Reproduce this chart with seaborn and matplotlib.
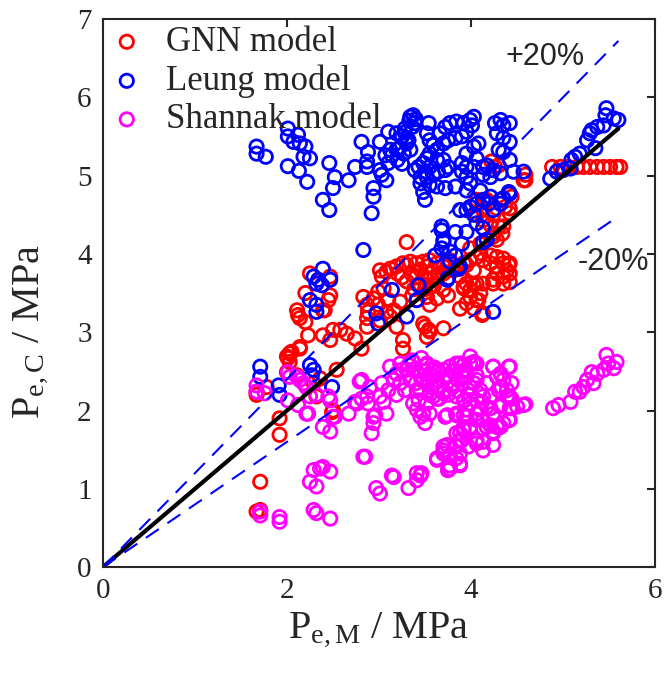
import pandas as pd
import seaborn as sns
import matplotlib.pyplot as plt
import numpy as np

gnn_pts = [
    (1.67, 2.24), (1.67, 2.20), (1.78, 2.30), (1.92, 1.90), (1.92, 1.69), (1.71, 1.09),
    (1.71, 0.73), (1.67, 0.71), (2.11, 3.28), (2.12, 3.22), (2.14, 3.18), (2.20, 3.13),
    (2.23, 2.96), (2.14, 2.79), (2.03, 2.73), (2.01, 2.67), (2.03, 2.62), (2.39, 3.28),
    (2.45, 3.41), (2.39, 2.96), (2.47, 2.90), (2.50, 3.03), (2.54, 2.52), (2.36, 2.41),
    (2.32, 2.18), (2.50, 2.00), (2.29, 2.35), (2.11, 2.45), (2.00, 2.49), (2.25, 3.75),
    (2.47, 3.71), (2.20, 3.50), (2.47, 3.47), (2.41, 3.28), (3.30, 4.15), (2.05, 2.75),
    (2.14, 2.81), (2.00, 2.69), (2.65, 2.98), (2.74, 2.92), (2.81, 2.79), (2.58, 3.03),
    (2.83, 3.45), (2.87, 3.35), (2.88, 3.26), (2.87, 3.18), (2.87, 3.07), (2.94, 3.43),
    (2.99, 3.52), (3.05, 3.56), (3.03, 3.71), (3.08, 3.77), (3.12, 3.81), (3.19, 3.84),
    (3.26, 3.88), (3.34, 3.90), (3.41, 3.88), (3.48, 3.90), (3.55, 3.92), (3.63, 3.88),
    (3.70, 3.84), (2.99, 3.35), (3.10, 3.41), (3.08, 3.26), (3.01, 3.15), (3.12, 3.20),
    (3.16, 3.28), (3.23, 3.39), (3.36, 3.47), (3.41, 3.41), (3.52, 3.45), (3.55, 3.35),
    (3.63, 3.43), (3.70, 3.54), (3.55, 3.58), (3.63, 3.67), (3.19, 3.07), (3.26, 2.90),
    (3.26, 2.79), (3.48, 3.11), (3.54, 3.03), (3.52, 2.94), (3.55, 3.01), (3.70, 3.05),
    (3.92, 3.56), (3.99, 3.45), (4.06, 3.62), (3.88, 3.30), (4.03, 3.30), (3.77, 3.92),
    (3.84, 3.84), (3.92, 3.88), (3.99, 3.92), (4.06, 3.96), (4.03, 3.79), (3.88, 3.71),
    (3.95, 3.62), (3.50, 3.07), (3.95, 3.37), (4.06, 3.41), (4.13, 3.24), (4.10, 3.50),
    (3.99, 3.54), (3.92, 3.58), (4.13, 3.62), (4.24, 3.62), (4.35, 3.62), (4.42, 3.64),
    (4.10, 4.01), (4.13, 3.92), (4.21, 3.88), (4.28, 3.84), (4.35, 3.88), (4.41, 3.86),
    (4.42, 3.75), (4.35, 3.71), (4.28, 3.75), (4.24, 3.67), (4.03, 3.60), (4.08, 3.41),
    (4.12, 3.22), (3.75, 3.47), (3.70, 3.75), (3.81, 3.79), (3.88, 3.81),
    (4.88, 5.11), (4.97, 5.11), (5.06, 5.11), (5.15, 5.11), (5.22, 5.11), (5.29, 5.11),
    (5.37, 5.11), (5.44, 5.11), (5.51, 5.11), (5.58, 5.11), (5.62, 5.11),
    (4.22, 5.18), (4.26, 5.11), (4.59, 5.01), (4.59, 4.94), (4.41, 4.77), (4.44, 4.73),
    (4.37, 4.60), (4.42, 4.58), (4.15, 4.67), (4.06, 4.69), (4.13, 4.56), (4.24, 4.50),
    (4.21, 4.37), (4.30, 4.35), (4.34, 4.26), (4.24, 4.22), (4.17, 4.18), (3.01, 3.79),
    (3.30, 3.86), (3.52, 3.84), (3.74, 3.84), (3.95, 3.86), (4.21, 3.98), (4.28, 3.96),
    (4.35, 3.94), (4.42, 3.88), (4.39, 3.79), (3.99, 4.07), (4.10, 4.13), (4.24, 4.26),
    (4.28, 4.18), (4.35, 4.35), (4.42, 4.52), (4.13, 4.43), (4.06, 4.50), (4.17, 4.69),
    (4.28, 4.58), (4.57, 4.94), (4.30, 5.13), (2.49, 1.98),
    (3.35, 3.75), (3.40, 3.70), (3.45, 3.80), (3.50, 3.70), (3.55, 3.75), (3.60, 3.70),
    (3.65, 3.75), (3.45, 3.60), (3.50, 3.55), (3.30, 3.65), (3.25, 3.70), (3.20, 3.75),
    (3.38, 3.55), (3.60, 3.60),
]

leung_pts = [
    (1.67, 5.37), (1.67, 5.28), (1.77, 5.24), (2.01, 5.60), (2.01, 5.50), (2.12, 5.52),
    (2.07, 5.43), (2.14, 5.41), (2.20, 5.37), (2.18, 5.24), (2.25, 5.22), (2.01, 5.12),
    (2.13, 5.06), (2.22, 4.92), (2.46, 5.16), (2.52, 4.98), (2.50, 4.84), (2.39, 4.69),
    (2.46, 4.56), (2.39, 3.81), (2.29, 3.71), (2.34, 3.67), (2.47, 3.67), (2.32, 3.62),
    (2.38, 3.60), (2.25, 3.41), (2.32, 3.35), (2.32, 3.26), (2.67, 4.94), (2.74, 5.11),
    (2.81, 5.43), (2.88, 5.30), (2.87, 5.18), (2.87, 5.11), (3.01, 5.43), (3.10, 5.56),
    (3.12, 5.33), (3.07, 5.26), (3.01, 5.07), (3.08, 4.94), (2.94, 4.84), (2.94, 4.73),
    (2.92, 4.52), (3.19, 5.54), (3.28, 5.60), (3.34, 5.75), (3.37, 5.77), (3.39, 5.67),
    (3.25, 5.50), (3.30, 5.41), (3.34, 5.33), (3.19, 5.33), (3.14, 5.26), (3.10, 5.16),
    (3.03, 5.01), (3.20, 5.20), (3.22, 5.35), (3.28, 5.55), (3.33, 5.70), (3.36, 5.62),
    (3.30, 5.48), (3.27, 5.28), (3.32, 5.45), (3.40, 5.72), (3.25, 5.15), (2.83, 4.05),
    (3.54, 5.67), (3.52, 5.54), (3.55, 5.45), (3.59, 5.39), (3.66, 5.54), (3.72, 5.62),
    (3.77, 5.67), (3.84, 5.69), (3.92, 5.67), (3.99, 5.71), (4.03, 5.75), (4.01, 5.64),
    (3.95, 5.56), (3.90, 5.50), (3.83, 5.48), (3.75, 5.45), (3.70, 5.41), (3.63, 5.33),
    (3.55, 5.28), (3.52, 5.22), (3.48, 5.16), (3.43, 5.11), (3.39, 5.07), (3.45, 4.98),
    (3.52, 4.98), (3.59, 5.01), (3.64, 5.05), (3.72, 5.07), (3.75, 5.11), (3.70, 5.20),
    (3.63, 5.20), (3.55, 5.11), (3.50, 5.05), (3.45, 4.90), (3.48, 4.79), (3.50, 4.69),
    (3.55, 4.88), (3.63, 4.86), (3.72, 4.84), (3.83, 4.86), (3.95, 4.81), (3.99, 4.90),
    (3.95, 4.98), (3.90, 5.05), (3.90, 5.16), (3.95, 5.11), (4.03, 5.11), (4.06, 5.22),
    (3.95, 5.28), (4.03, 5.37), (4.08, 5.41), (4.13, 5.11), (4.13, 5.01), (4.21, 4.98),
    (4.24, 5.07), (4.17, 5.13), (4.10, 4.81),
    (4.26, 5.67), (4.32, 5.71), (4.35, 5.64), (4.42, 5.67), (4.28, 5.54), (4.35, 5.48),
    (4.42, 5.43), (4.30, 5.33), (4.35, 5.30), (4.42, 5.20), (4.32, 5.03), (4.46, 5.05),
    (4.57, 5.05),
    (3.95, 4.56), (3.99, 4.60), (4.06, 4.64), (4.13, 4.69), (4.19, 4.64), (4.24, 4.56),
    (4.32, 4.64), (4.35, 4.71), (4.42, 4.77), (4.03, 4.50), (4.06, 4.39), (4.13, 4.33),
    (3.68, 4.30), (3.70, 4.18), (3.83, 4.28), (3.95, 4.28), (3.90, 4.13), (3.83, 3.98),
    (3.68, 4.07), (3.61, 3.98),
    (3.14, 3.54), (3.43, 3.60), (3.41, 3.41), (3.30, 3.20), (2.97, 3.24), (2.99, 3.11),
    (4.24, 3.26), (2.49, 2.30), (3.74, 3.67), (3.77, 4.03), (3.70, 4.15), (3.75, 3.69),
    (3.88, 3.84), (1.71, 2.56), (1.71, 2.43), (1.91, 2.32), (1.92, 2.20), (2.25, 2.58),
    (2.29, 2.52), (2.27, 2.45),
    (5.47, 5.86), (5.46, 5.77), (5.55, 5.73), (5.60, 5.71), (5.44, 5.64), (5.37, 5.62),
    (5.31, 5.58), (5.29, 5.54), (5.26, 5.45), (5.35, 5.35), (5.18, 5.28), (5.13, 5.24),
    (5.09, 5.20), (5.08, 5.09), (5.00, 5.07), (4.93, 5.05), (4.86, 4.96),
    (3.68, 4.35), (3.88, 4.56), (4.21, 4.73), (4.13, 4.15), (3.77, 3.90), (3.86, 3.81),
    (4.17, 4.18), (4.41, 4.79), (4.32, 4.69),
]

shannak_pts = [
    (1.67, 2.32), (1.67, 2.24), (1.76, 2.22), (2.01, 2.49), (2.03, 2.43), (2.11, 2.43),
    (2.14, 2.39), (2.18, 2.35), (2.21, 2.30), (2.25, 2.18), (2.32, 2.20), (2.12, 2.07),
    (2.21, 1.96), (2.01, 2.13), (2.47, 2.13), (2.50, 1.92), (2.39, 1.79), (2.47, 1.73),
    (2.29, 1.24), (2.36, 1.26), (2.39, 1.28), (2.47, 1.22), (2.25, 1.09), (2.32, 1.03),
    (2.29, 0.73), (2.32, 0.69), (2.47, 0.62), (1.92, 0.64), (1.92, 0.58), (1.71, 0.71),
    (1.71, 0.66), (2.23, 1.96), (2.52, 1.92), (2.67, 1.96), (2.74, 2.11), (2.85, 1.41),
    (2.92, 1.71), (2.94, 1.84), (2.96, 1.94), (3.08, 1.96), (2.97, 1.01), (3.01, 0.94),
    (3.16, 1.15), (3.32, 1.01), (3.41, 1.11), (3.45, 1.17), (3.63, 1.37), (3.70, 1.49),
    (3.75, 1.24), (3.84, 1.39), (3.88, 1.71), (3.99, 1.79), (3.92, 1.94), (3.74, 1.94),
    (3.84, 1.96), (3.50, 1.84), (3.48, 1.96), (2.81, 2.39), (2.87, 2.18), (2.88, 2.09),
    (2.94, 1.92), (3.05, 2.11), (3.10, 2.26), (3.16, 2.39), (3.19, 2.47), (3.25, 2.52),
    (3.32, 2.58), (3.37, 2.62), (3.37, 2.52), (3.34, 2.39), (3.28, 2.26), (3.23, 2.35),
    (3.19, 2.20), (3.52, 2.58), (3.59, 2.52), (3.63, 2.39), (3.57, 2.30), (3.48, 2.39),
    (3.45, 2.26), (3.43, 2.13), (3.37, 2.09), (3.41, 2.01), (3.45, 1.92), (3.55, 1.96),
    (3.52, 2.09), (3.59, 2.18), (3.66, 2.30), (3.70, 2.39), (3.70, 2.52), (3.77, 2.56),
    (3.84, 2.60), (3.92, 2.58), (3.99, 2.60), (4.03, 2.62), (4.06, 2.45), (3.95, 2.43),
    (3.99, 2.30), (4.06, 2.39), (4.10, 2.26), (4.17, 2.35), (4.24, 2.56), (4.28, 2.43),
    (4.35, 2.39), (4.42, 2.56), (4.39, 2.26), (4.44, 2.15), (4.44, 2.03), (4.32, 2.05),
    (4.24, 1.96), (4.17, 2.05), (4.13, 2.18), (4.06, 2.13), (3.99, 2.20), (3.92, 2.13),
    (3.95, 2.01), (4.06, 1.96), (4.13, 1.88), (4.17, 1.79), (4.24, 1.71), (4.28, 1.79),
    (4.35, 1.84), (4.42, 1.88), (4.57, 2.07), (3.92, 1.79), (3.84, 1.71), (3.90, 1.62),
    (3.84, 1.54), (3.74, 1.56), (3.70, 1.45), (3.63, 1.39), (3.77, 1.30), (3.75, 1.24),
    (3.88, 1.32), (4.06, 1.58), (4.13, 1.49), (4.24, 1.56), (2.83, 1.41), (3.14, 1.17),
    (3.41, 1.20), (3.46, 1.20), (3.72, 1.92), (3.84, 1.94), (3.95, 1.92),
    (5.47, 2.71), (5.49, 2.60), (5.58, 2.62), (5.55, 2.54), (5.44, 2.52), (5.37, 2.47),
    (5.31, 2.49), (5.33, 2.35), (5.26, 2.39), (5.22, 2.30), (5.18, 2.24), (5.13, 2.24),
    (5.08, 2.11), (4.95, 2.07), (4.89, 2.03), (4.59, 2.08), (4.50, 2.05), (4.42, 2.18),
    (4.41, 1.88), (4.32, 1.79), (4.24, 1.73), (4.13, 1.60), (4.06, 1.62), (3.97, 1.54),
    (3.88, 1.45), (3.77, 1.43), (3.77, 1.26), (3.88, 1.30), (3.70, 1.54), (3.83, 1.56),
    (4.03, 2.60), (3.92, 2.58), (4.24, 2.56), (4.41, 2.56), (4.32, 2.47), (4.44, 2.35),
    (4.33, 2.30), (4.39, 2.18), (4.30, 2.26), (4.21, 2.18), (4.12, 2.11), (3.93, 2.13),
    (3.99, 2.09), (4.10, 2.01), (4.21, 2.03), (4.32, 2.07), (4.42, 2.03), (4.06, 1.88),
    (4.13, 1.77), (4.21, 1.81), (3.92, 1.75), (3.88, 1.62), (3.99, 1.77),
    (3.55, 2.45), (3.60, 2.55), (3.65, 2.50), (3.75, 2.45), (3.80, 2.50), (3.85, 2.40),
    (3.90, 2.50), (3.95, 2.52), (3.60, 2.35), (3.70, 2.25), (3.80, 2.30), (3.90, 2.35),
    (3.65, 2.15), (3.75, 2.20), (3.85, 2.25), (3.55, 2.20), (3.50, 2.50), (3.45, 2.45),
    (3.40, 2.35), (2.79, 2.37), (2.90, 2.30), (3.03, 2.35), (3.01, 2.18), (2.76, 2.09),
    (2.81, 2.15), (3.12, 2.56), (3.23, 2.60), (3.30, 2.52), (3.36, 2.64), (3.46, 2.67),
    (3.52, 2.60), (3.55, 2.47), (3.59, 2.52), (3.46, 2.39), (3.41, 2.26), (3.63, 2.30),
    (3.74, 2.43), (3.88, 2.60), (3.99, 2.69), (4.06, 2.60), (3.92, 2.43), (4.03, 2.35),
    (3.70, 2.22), (3.63, 2.15), (3.84, 2.18), (2.45, 2.18),
]

series = [
    ("GNN model", gnn_pts, "#ff0000"),
    ("Leung model", leung_pts, "#0000ff"),
    ("Shannak model", shannak_pts, "#ff00ff"),
]

sns.set_theme(style="white")
plt.rcParams['font.family'] = ['Liberation Serif', 'DejaVu Serif']
plt.rcParams['mathtext.fontset'] = 'custom'
plt.rcParams['mathtext.rm'] = 'Liberation Serif'
plt.rcParams['mathtext.it'] = 'Liberation Serif:italic'

fig = plt.figure(figsize=(6.72, 6.76), dpi=100)
ax = fig.add_axes([0.153, 0.161, 0.822, 0.811])

for name, pts, col in series:
    df = pd.DataFrame(pts, columns=["x", "y"])
    sns.scatterplot(data=df, x="x", y="y", ax=ax, marker="o", s=92,
                    facecolor="none", edgecolor=col, linewidth=2.0, label=name)

# 1:1 line and +/-20% bounds
xl = np.array([0, 5.6])
ax.plot(xl, xl, color="black", lw=3)
ax.plot(xl, 1.2 * xl, color="#0000ff", lw=1.5, ls=(0, (7.5, 5)))
ax.plot(xl, 0.8 * xl, color="#0000ff", lw=1.5, ls=(0, (7.5, 5)))
ax.text(4.8, 6.52, "+20%", family="Liberation Sans", fontsize=22, ha="center", va="center")
ax.text(5.55, 3.9, "-20%", family="Liberation Sans", fontsize=22, ha="center", va="center")

ax.set_xlim(0, 6)
ax.set_ylim(0, 7)
ax.set_xticks([0, 2, 4, 6])
ax.set_yticks(range(8))
ax.tick_params(direction="in", length=6, width=1.5, top=True, right=True,
               labelsize=21, colors="#262626", pad=8)
for sp in ax.spines.values():
    sp.set_linewidth(1.5)
    sp.set_color("#262626")

ax.set_xlabel(r"$\mathrm{P_{e,M}}$ / MPa", fontsize=29, color="#262626", labelpad=4)
ax.set_ylabel(r"$\mathrm{P_{e,C}}$ / MPa", fontsize=29, color="#262626")
ax.yaxis.set_label_coords(-0.095, 0.43)

ax.legend(loc="upper left", frameon=False, fontsize=25, handlelength=0.98,
          handletextpad=0.65, borderaxespad=0.05, labelspacing=0.16, borderpad=0.15)

fig.savefig("out.png", dpi=100)
